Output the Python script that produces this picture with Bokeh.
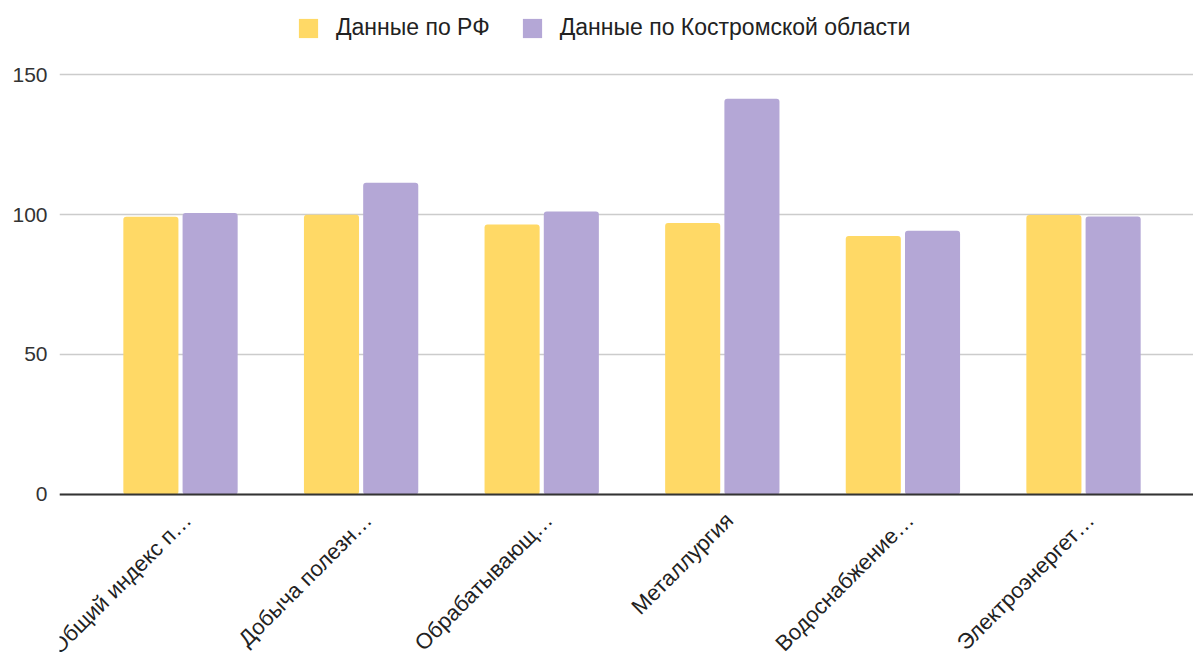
import math
from bokeh.plotting import figure
from bokeh.models import Range1d, FixedTicker, Legend, LegendItem, ColumnDataSource, Span
from bokeh.core.properties import value
from bokeh.embed import file_html
from bokeh.resources import INLINE

categories = ["Общий индекс п…", "Добыча полезн…", "Обрабатывающ…",
              "Металлургия", "Водоснабжение…", "Электроэнергет…"]
rf_values = [99.2, 99.9, 96.4, 97.0, 92.3, 99.8]
kostroma_values = [100.5, 111.3, 101.1, 141.3, 94.2, 99.3]
series_names = ["Данные по РФ", "Данные по Костромской области"]
y_ticks = [0, 50, 100, 150]

YELLOW = "#ffd966"
PURPLE = "#b4a7d6"
FONT = "Liberation Sans"

idx = list(range(len(categories)))
src = ColumnDataSource(dict(
    x_rf=[i - 0.164 for i in idx],
    x_ko=[i + 0.164 for i in idx],
    rf=rf_values,
    ko=kostroma_values,
))
lab = ColumnDataSource(dict(x=idx, y=[0] * len(idx), text=categories))

p = figure(width=1193, height=652, output_backend="svg", toolbar_location=None,
           x_range=Range1d(-0.670, 5.609), y_range=Range1d(-56.43, 176.43),
           min_border_left=59, min_border_right=0, min_border_bottom=0,
           min_border_top=0)
p.outline_line_color = None

r1 = p.vbar(x="x_rf", top="rf", width=0.305, source=src, fill_color=YELLOW,
            line_color=None, border_radius=3)
r2 = p.vbar(x="x_ko", top="ko", width=0.305, source=src, fill_color=PURPLE,
            line_color=None, border_radius=3)

# baseline and category labels
p.xaxis.visible = False
p.xgrid.grid_line_color = None
p.add_layout(Span(location=0, dimension="width", line_color="#333333", line_width=2))
p.text(x="x", y="y", text="text", source=lab, angle=math.pi / 4,
       text_align="right", text_baseline="alphabetic",
       x_offset=7, y_offset=22,
       text_font=value(FONT), text_font_size="22px", text_color="#222222")

# y axis
ya = p.yaxis[0]
ya.ticker = FixedTicker(ticks=y_ticks)
ya.axis_line_color = None
ya.major_tick_line_color = None
ya.major_tick_out = 0
ya.major_tick_in = 0
ya.minor_tick_line_color = None
ya.major_label_text_font = FONT
ya.major_label_text_font_size = "21px"
ya.major_label_text_color = "#333333"
ya.major_label_standoff = 12
p.ygrid.grid_line_color = "#cccccc"
p.ygrid.grid_line_width = 1.5

legend = Legend(items=[LegendItem(label=series_names[0], renderers=[r1]),
                       LegendItem(label=series_names[1], renderers=[r2])],
                orientation="horizontal", location=(237, 611),
                label_text_font=FONT, label_text_font_size="23px",
                label_text_color="#222222", glyph_width=24, glyph_height=24,
                spacing=30, label_standoff=16, border_line_color=None,
                background_fill_alpha=0, padding=0, margin=0)
p.add_layout(legend, "center")

open("out.html", "w").write(file_html(p, INLINE))
